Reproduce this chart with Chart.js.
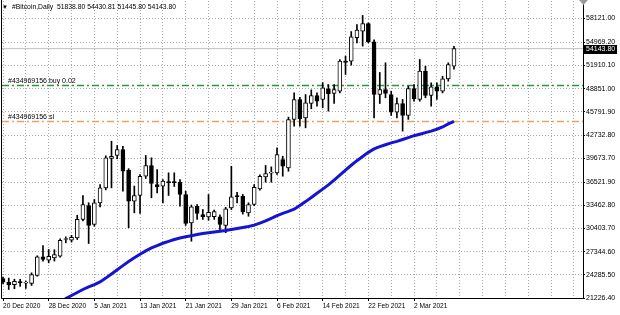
<!DOCTYPE html>
<html><head><meta charset="utf-8">
<style>html,body{margin:0;padding:0;background:#fff;overflow:hidden}canvas{display:block}</style>
<script src="https://cdn.jsdelivr.net/npm/chart.js@4/dist/chart.umd.min.js"></script>
</head><body>
<canvas id="c" width="620" height="315"></canvas>
<script>
// ---------- data ----------
const symbolTitle = '#Bitcoin,Daily';
const titleQuote = [51838.80, 54430.81, 51445.80, 54143.80];
const xLabels = ['20 Dec 2020','28 Dec 2020','5 Jan 2021','13 Jan 2021','21 Jan 2021','29 Jan 2021','6 Feb 2021','14 Feb 2021','22 Feb 2021','2 Mar 2021'];
const xLabelStep = 8;
const yTickValues = [21226.40, 24285.50, 27344.60, 30403.70, 33462.80, 36521.90, 39673.70, 42732.80, 45791.90, 48851.00, 51910.10, 54969.20, 58121.00];

const opens = [23800,23300,22970,23350,23200,23140,24200,26660,26220,26530,
  26740,28950,28860,29170,31590,33440,30930,33790,35770,39640,
  40040,40830,38100,34000,34760,37300,38720,36210,35980,36600,
  36550,36510,34890,31150,33340,32250,31940,31950,31940,30800,
  33130,34700,34650,32470,33570,35640,37220,37700,37750,39510,
  38400,44790,47430,45000,46900,47950,47430,48840,48220,48530,
  52500,52490,55580,56450,57460,55040,48090,48750,48090,45760,
  46900,45320,48880,47430,51170,47960,49100,48530,50160,51838.80];
const highs = [24000,23850,23700,23700,23450,24550,26800,28150,27630,27600,
  29040,29300,29500,32150,34750,33800,34230,36210,40000,41920,
  41360,41260,38300,36000,37530,40040,39730,38190,36870,37750,
  37750,36870,35320,33500,33570,32900,34890,32850,32200,33200,
  38620,35190,34900,33790,36200,37500,38720,38540,41050,39940,
  45100,48310,47700,48090,48700,48300,49650,49400,49400,52700,
  53150,56400,57330,58520,57550,55300,51000,52270,48530,47650,
  47430,49200,49400,52710,51830,49630,49630,50500,52270,54430.81];
const lows = [23100,22350,22450,22750,22500,22880,24100,26100,25870,26100,
  26600,28510,28600,28950,31400,28420,30700,33250,35500,35770,
  39600,35320,30490,32470,32380,37000,34450,35110,33790,34760,
  35950,33340,30800,28720,31590,31600,31500,31600,30040,29850,
  32900,33790,32300,32020,33400,35450,36510,36510,37530,37300,
  37960,43910,43900,43690,46200,46550,46330,45900,46900,48300,
  50730,51960,54900,54470,54900,45010,46900,47650,45320,45000,
  43250,44800,47200,47200,47650,46550,47430,48300,49850,51445.80];
const closes = [23300,22950,23440,23250,23280,24330,26660,26310,26740,26970,
  28850,29050,29250,31600,33570,30800,33790,35770,39730,39940,
  40830,37960,34000,34760,37300,38720,36340,35900,36650,36430,
  36450,34890,31060,33250,32380,31940,32550,32650,30930,32990,
  34580,34600,32600,33570,35850,37300,37660,37800,40170,38620,
  44790,47430,44880,47000,47950,47200,48970,48210,48750,52490,
  52330,55700,56580,57460,55040,48090,48750,48220,45760,46900,
  45320,48880,47520,51170,47960,49100,48530,50160,52050,54143.80];

const maStart = 10;
const maValues = [20500,21150,21550,21950,22350,22700,23000,23350,23850,24400,
  24950,25500,26050,26550,27000,27450,27850,28150,28450,28700,
  28950,29150,29300,29450,29600,29750,29850,29950,30050,30150,
  30270,30400,30530,30660,30850,31100,31400,31750,32100,32400,
  32650,32950,33450,33950,34500,35050,35600,36150,36800,37450,
  38100,38750,39350,39900,40450,40900,41200,41450,41700,41900,
  42150,42400,42650,42850,43050,43250,43500,43800,44200,44550];

const orderLevels = [49276, 44524];
const orderTexts = ['#434969156 buy 0.02', '#434969156 sl'];
const bidPrice = 54143.80;

// ---------- build ----------
const FONT = '"Liberation Sans", Arial, sans-serif';
const X_MIN = -0.18, X_MAX = 101.6;
const isUp = closes.map((c, i) => c >= opens[i]);
const wickData = highs.map((h, i) => ({x: i, y: [lows[i], h]}));
const bodyData = opens.map((o, i) => ({x: i, y: [o, closes[i]]}));
const maData = maValues.map((v, i) => ({x: maStart + i, y: v}));
const levelLine = (v, color, dash, w) => ({
  type: 'line', data: [{x: X_MIN, y: v}, {x: X_MAX, y: v}],
  borderColor: color, backgroundColor: color, borderWidth: w, borderDash: dash,
  pointRadius: 0, fill: false, order: 5
});
const orderColors = ['#22994a', '#f0a060'];
const GRID = '#a8a8a8';

const overlay = {
  id: 'overlay',
  afterDraw(chart) {
    const ctx = chart.ctx, y = chart.scales.y, a = chart.chartArea;
    ctx.save();
    ctx.strokeStyle = '#000'; ctx.lineWidth = 1;
    ctx.beginPath();
    ctx.moveTo(1.5, 0); ctx.lineTo(1.5, a.bottom + 0.5);
    ctx.lineTo(a.right + 0.5, a.bottom + 0.5); ctx.lineTo(a.right + 0.5, 0);
    ctx.stroke();
    ctx.fillStyle = '#9a9a9a';
    ctx.beginPath(); ctx.moveTo(a.right - 4, 0); ctx.lineTo(a.right + 5, 0); ctx.lineTo(a.right + 0.5, 5); ctx.closePath(); ctx.fill();
    ctx.fillStyle = '#000';
    ctx.textBaseline = 'middle';
    ctx.font = '6px ' + FONT;
    ctx.fillText('\u25BC', 2, 7);
    ctx.font = '6.8px ' + FONT;
    ctx.fillText(symbolTitle + '  ' + titleQuote.map(v => v.toFixed(2)).join(' '), 12, 7);
    ctx.font = '7px ' + FONT;
    ctx.textBaseline = 'bottom';
    orderLevels.forEach((lv, i) => {
      ctx.fillText(orderTexts[i], 8, y.getPixelForValue(lv) - 1);
    });
    const by = Math.round(y.getPixelForValue(bidPrice));
    ctx.fillStyle = '#000';
    ctx.fillRect(a.right + 1, by - 4, 33, 9);
    ctx.fillStyle = '#fff';
    ctx.textBaseline = 'middle';
    ctx.fillText(bidPrice.toFixed(2), a.right + 3, by + 0.5);
    ctx.restore();
  }
};

new Chart(document.getElementById('c'), {
  type: 'bar',
  data: {
    datasets: [
      {type: 'line', data: maData, borderColor: '#1414d2', borderWidth: 3, pointRadius: 0, tension: 0, order: 0},
      {type: 'bar', data: bodyData, backgroundColor: isUp.map(u => u ? '#ffffff' : '#000000'),
        borderColor: '#000', borderWidth: 1, borderSkipped: false, barThickness: 4, minBarLength: 1, grouped: false, order: 1},
      {type: 'bar', data: wickData, backgroundColor: '#000', barThickness: 1, grouped: false, order: 2},
      levelLine(bidPrice, '#c0c0c0', [], 1),
      levelLine(orderLevels[0], orderColors[0], [7, 3, 2, 3], 1.4),
      levelLine(orderLevels[1], orderColors[1], [7, 3, 2, 3], 1.4)
    ]
  },
  options: {
    responsive: false,
    devicePixelRatio: 1,
    animation: false,
    layout: {padding: {left: 2, top: 1, right: 0, bottom: 0}},
    plugins: {legend: {display: false}, tooltip: {enabled: false}, title: {display: false}},
    scales: {
      x: {
        type: 'linear', position: 'bottom', min: X_MIN, max: X_MAX, offset: false,
        afterBuildTicks: s => { s.ticks = Array.from({length: 26}, (_, i) => ({value: i * 4})); },
        afterFit: s => { s.height = 17; s.paddingLeft = 0; s.paddingRight = 0; },
        ticks: {
          autoSkip: false, maxRotation: 0, minRotation: 0, align: 'start', color: '#000', padding: 1,
          font: {family: FONT, size: 6.6},
          callback: v => { const i = v / xLabelStep; return (Number.isInteger(i) && i < xLabels.length) ? xLabels[i] : ''; }
        },
        grid: {
          offset: false, color: GRID, lineWidth: 1, tickLength: 3,
          tickColor: c => { const i = c.tick ? c.tick.value / xLabelStep : 0.5; return (Number.isInteger(i) && i < xLabels.length) ? '#000' : 'rgba(0,0,0,0)'; },
          tickBorderDash: []
        },
        border: {display: true, color: '#000', dash: [1, 2]}
      },
      y: {
        type: 'linear', position: 'right', min: 21226.4, max: 60430.4,
        afterBuildTicks: s => { s.ticks = yTickValues.map(v => ({value: v})); },
        afterFit: s => { s.width = 37; s.paddingTop = 0; s.paddingBottom = 0; },
        ticks: {color: '#000', padding: 1, crossAlign: 'near', font: {family: FONT, size: 7}, callback: v => v.toFixed(2)},
        grid: {color: GRID, lineWidth: 1, tickLength: 2, tickColor: '#000', tickBorderDash: []},
        border: {display: true, color: '#000', dash: [1, 2]}
      }
    }
  },
  plugins: [overlay]
});
</script>
</body></html>
